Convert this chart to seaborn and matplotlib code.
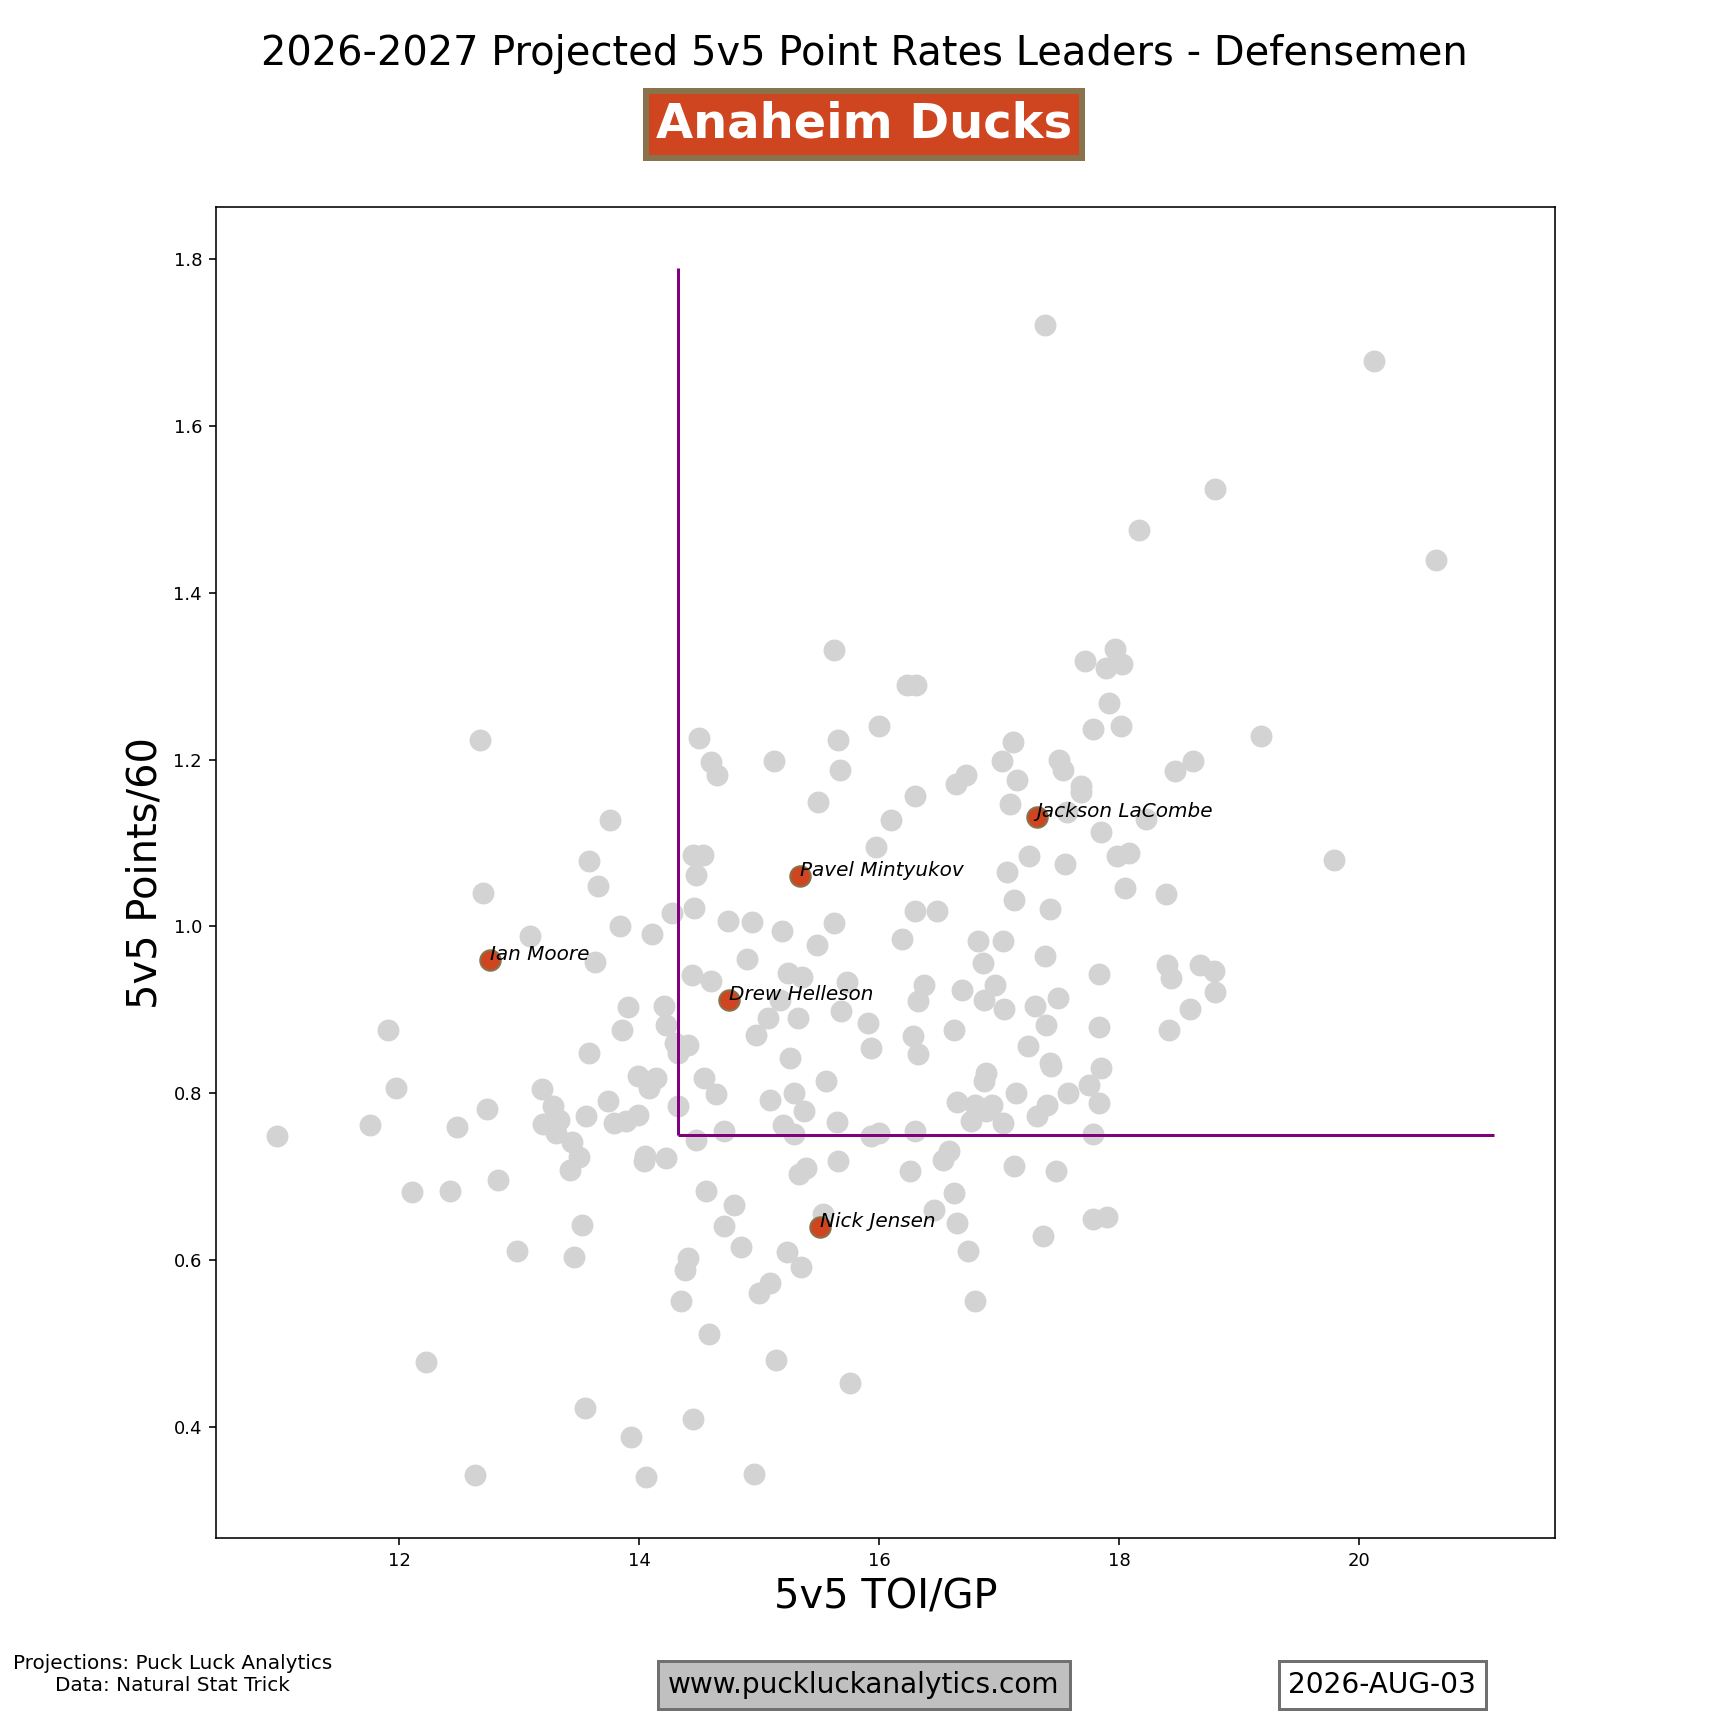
import matplotlib
matplotlib.use("Agg")
import matplotlib.pyplot as plt
import seaborn as sns

# league-wide defensemen projections (5v5 TOI per game, 5v5 points per 60)
toi = [
    12.67, 13.76, 13.58, 13.66, 12.70, 13.84, 14.11, 13.09, 13.63,
    15.62, 16.23, 16.31, 16.00, 14.50, 15.66, 14.60, 14.65, 15.12, 15.67,
    15.49, 16.30, 16.10, 15.97, 14.45, 14.53, 14.47, 14.27, 14.46, 14.74,
    14.94, 15.19, 15.62, 16.30, 16.48, 15.48, 16.19, 14.90,
    17.96, 17.71, 17.89, 18.02, 17.91, 17.78, 18.01, 17.11, 17.02, 17.50,
    17.53, 18.61, 18.46, 16.72, 16.64, 17.15, 17.68, 17.68, 17.09, 17.56,
    18.22, 17.85, 17.25, 17.98, 18.08, 17.06, 17.55, 18.05, 18.39, 17.12,
    17.42, 16.82, 17.03, 16.86, 17.38,
    11.91, 13.91, 13.86, 13.58, 14.21, 14.22, 11.97, 13.19, 13.99, 14.08,
    14.14, 12.73, 13.28, 13.33, 13.20, 13.31, 13.44, 13.50, 13.42, 13.56,
    13.74, 13.79, 13.89, 13.99, 11.76, 12.48, 14.05, 14.04, 14.22, 12.11,
    12.42, 12.82, 13.52, 12.98, 13.46,
    14.44, 14.60, 15.17, 15.07, 14.97, 15.32, 15.24, 15.36, 15.68, 15.73,
    15.91, 15.93, 16.32, 16.37, 16.28, 16.32, 14.30, 14.32, 14.41, 14.54,
    14.64, 14.32, 15.26, 15.56, 15.09, 15.29, 15.37, 15.20, 15.29, 15.65,
    14.71, 14.47, 15.93, 16.00, 16.30, 15.66, 15.33, 15.39, 16.26, 14.56,
    14.79, 14.71, 14.85, 15.53, 15.23, 15.35, 14.41, 14.38, 15.09, 15.00,
    14.35, 16.46,
    16.69, 16.96, 16.87, 17.04, 17.30, 17.49, 17.39, 17.83, 17.83, 18.40,
    18.43, 18.67, 18.79, 18.80, 18.59, 18.41, 16.62, 17.24, 17.42, 17.43,
    17.85, 17.75, 17.83, 16.89, 16.87, 17.14, 17.57, 17.40, 17.31, 16.65,
    16.80, 16.94, 16.89, 16.76, 17.03, 17.78, 16.58, 16.53, 17.12, 17.47,
    16.62, 16.65, 17.78, 17.90, 17.36, 16.74, 16.80,
    17.38, 20.12, 18.80, 20.64, 18.16, 19.18, 19.79, 13.55, 14.45, 13.93,
    12.63, 14.06, 14.96, 14.58, 15.14, 12.22, 15.76, 10.98,
]
pts = [
    1.223, 1.128, 1.078, 1.048, 1.040, 1.001, 0.991, 0.988, 0.957,
    1.332, 1.289, 1.289, 1.240, 1.226, 1.223, 1.197, 1.181, 1.198, 1.187,
    1.149, 1.156, 1.127, 1.095, 1.085, 1.085, 1.062, 1.016, 1.022, 1.006,
    1.005, 0.994, 1.004, 1.019, 1.019, 0.978, 0.985, 0.961,
    1.333, 1.318, 1.310, 1.315, 1.268, 1.237, 1.240, 1.221, 1.198, 1.199,
    1.187, 1.198, 1.186, 1.182, 1.171, 1.175, 1.168, 1.161, 1.147, 1.137,
    1.129, 1.113, 1.084, 1.084, 1.088, 1.065, 1.075, 1.046, 1.039, 1.032,
    1.021, 0.982, 0.983, 0.956, 0.965,
    0.876, 0.903, 0.876, 0.848, 0.904, 0.882, 0.806, 0.805, 0.820, 0.806,
    0.818, 0.781, 0.784, 0.768, 0.763, 0.752, 0.741, 0.723, 0.708, 0.773,
    0.790, 0.764, 0.767, 0.774, 0.762, 0.759, 0.724, 0.718, 0.722, 0.681,
    0.683, 0.696, 0.642, 0.611, 0.603,
    0.942, 0.934, 0.912, 0.890, 0.870, 0.890, 0.944, 0.939, 0.898, 0.933,
    0.884, 0.854, 0.910, 0.930, 0.868, 0.847, 0.860, 0.848, 0.858, 0.818,
    0.799, 0.785, 0.842, 0.815, 0.792, 0.800, 0.778, 0.762, 0.751, 0.765,
    0.754, 0.744, 0.749, 0.752, 0.755, 0.719, 0.703, 0.710, 0.707, 0.683,
    0.666, 0.641, 0.615, 0.655, 0.609, 0.592, 0.602, 0.588, 0.572, 0.560,
    0.551, 0.660,
    0.924, 0.930, 0.912, 0.901, 0.904, 0.914, 0.882, 0.943, 0.879, 0.954,
    0.938, 0.954, 0.946, 0.921, 0.901, 0.876, 0.876, 0.856, 0.836, 0.832,
    0.830, 0.810, 0.788, 0.824, 0.814, 0.800, 0.800, 0.786, 0.773, 0.789,
    0.786, 0.786, 0.778, 0.767, 0.764, 0.751, 0.731, 0.720, 0.713, 0.706,
    0.680, 0.644, 0.649, 0.651, 0.628, 0.611, 0.551,
    1.721, 1.678, 1.524, 1.439, 1.475, 1.228, 1.079, 0.422, 0.409, 0.388,
    0.342, 0.339, 0.343, 0.511, 0.480, 0.477, 0.452, 0.748,
]

# Anaheim defensemen
team_names = ["Ian Moore", "Pavel Mintyukov", "Drew Helleson", "Jackson LaCombe", "Nick Jensen"]
team_toi = [12.76, 15.34, 14.75, 17.31, 15.51]
team_pts = [0.960, 1.060, 0.912, 1.131, 0.639]

# leader cut-offs
x_cut = 14.32
y_cut = 0.75

team = "Anaheim Ducks"
orange = "#CF4520"
gold = "#89734C"

fig, ax = plt.subplots(figsize=(12, 12), dpi=144)

sns.scatterplot(x=toi, y=pts, color="lightgrey", s=120, linewidth=0, ax=ax, zorder=1)
sns.scatterplot(x=team_toi, y=team_pts, color=orange, edgecolor=gold, linewidth=1,
                s=105, ax=ax, zorder=3)

ax.vlines(x_cut, y_cut, max(pts) * 1.04, color="purple", lw=1.5, zorder=2)
ax.hlines(y_cut, x_cut, max(toi) * 1.0235, color="purple", lw=1.5, zorder=2)

for name, x, y in zip(team_names, team_toi, team_pts):
    ax.text(x, y, name, fontsize=10, style="italic", zorder=4)

ax.set_xlabel("5v5 TOI/GP", fontsize=20)
ax.set_ylabel("5v5 Points/60", fontsize=20)
ax.tick_params(labelsize=9)

fig.text(0.5, 0.969, "2026-2027 Projected 5v5 Point Rates Leaders - Defensemen",
         ha="center", va="center", fontsize=20)
fig.text(0.5, 0.928, team, ha="center", va="center", fontsize=24, fontweight="bold",
         color="white",
         bbox=dict(boxstyle="square,pad=0.2", facecolor=orange, edgecolor=gold, linewidth=3))

fig.text(0.1, 0.031, "Projections: Puck Luck Analytics\nData: Natural Stat Trick",
         ha="center", va="center", fontsize=10, multialignment="center")
fig.text(0.5, 0.025, "www.puckluckanalytics.com", ha="center", va="center", fontsize=14,
         bbox=dict(boxstyle="square,pad=0.35", facecolor="#C0C0C0", edgecolor="#707070", linewidth=1.5))
fig.text(0.8, 0.025, "2026-AUG-03", ha="center", va="center", fontsize=14,
         bbox=dict(boxstyle="square,pad=0.35", facecolor="white", edgecolor="#707070", linewidth=1.5))

fig.savefig("out.png", dpi=144)
